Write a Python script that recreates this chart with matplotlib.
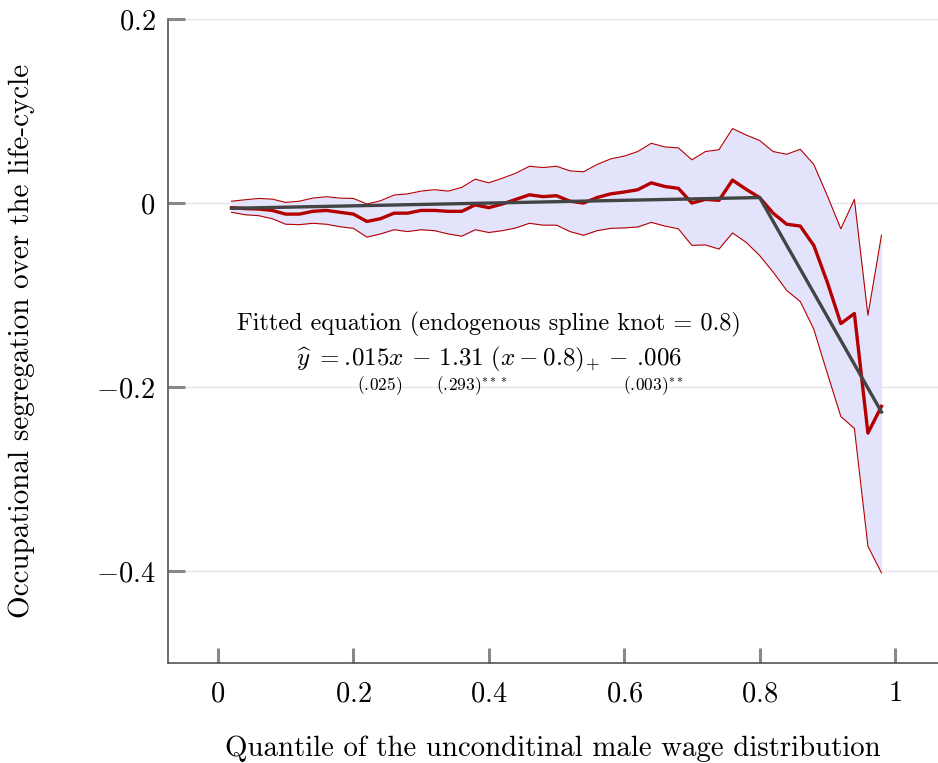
import numpy as np
import matplotlib
matplotlib.use("Agg")
import matplotlib.pyplot as plt
from matplotlib.ticker import FuncFormatter

plt.rcParams["font.family"] = "serif"
plt.rcParams["font.serif"] = ["cmr10"]
plt.rcParams["mathtext.fontset"] = "cm"
plt.rcParams["axes.formatter.use_mathtext"] = True

# quantiles of the male wage distribution
quantile = np.round(np.arange(0.02, 0.99, 0.02), 2)

# point estimates and 95% band
estimate = [
    -0.005, -0.006, -0.0065, -0.008, -0.012, -0.012, -0.009, -0.008, -0.010, -0.012,
    -0.020, -0.017, -0.011, -0.011, -0.008, -0.008, -0.009, -0.009, -0.002, -0.005,
    -0.001, 0.004, 0.009, 0.007, 0.008, 0.002, 0.000, 0.006, 0.010, 0.012,
    0.0145, 0.022, 0.018, 0.016, 0.000, 0.004, 0.003, 0.025, 0.015, 0.006,
    -0.011, -0.023, -0.025, -0.046, -0.086, -0.131, -0.120, -0.250, -0.221,
]
upper = [
    0.002, 0.0036, 0.005, 0.0043, 0.0007, 0.002, 0.0054, 0.0069, 0.0054, 0.005,
    -0.001, 0.0025, 0.0087, 0.010, 0.013, 0.0145, 0.013, 0.017, 0.026, 0.022,
    0.027, 0.0325, 0.040, 0.0386, 0.040, 0.035, 0.034, 0.042, 0.048, 0.051,
    0.056, 0.065, 0.061, 0.060, 0.047, 0.056, 0.058, 0.081, 0.074, 0.068,
    0.056, 0.053, 0.0585, 0.042, 0.008, -0.028, 0.004, -0.122, -0.035,
]
lower = [
    -0.010, -0.0127, -0.0137, -0.017, -0.023, -0.0235, -0.022, -0.023, -0.0257, -0.0275,
    -0.037, -0.0336, -0.029, -0.031, -0.029, -0.030, -0.0336, -0.036, -0.029, -0.032,
    -0.030, -0.027, -0.022, -0.024, -0.024, -0.031, -0.035, -0.030, -0.0275, -0.027,
    -0.026, -0.021, -0.025, -0.028, -0.046, -0.0455, -0.050, -0.0325, -0.0426, -0.057,
    -0.075, -0.095, -0.107, -0.137, -0.185, -0.232, -0.245, -0.373, -0.402,
]

# fitted linear spline: y = b1*x + b2*(x - knot)_+ + c
b1, b2, const, knot = 0.015, -1.31, -0.006, 0.8
fitted = b1 * quantile + b2 * np.clip(quantile - knot, 0, None) + const

red = "#b30000"
fig = plt.figure(figsize=(9.38, 7.63), dpi=100)
ax = fig.add_axes([0.179, 0.131, 0.821, 0.844])

ax.fill_between(quantile, lower, upper, color="#e3e3fc", lw=0, zorder=1)
ax.plot(quantile, upper, color=red, lw=0.8, zorder=2)
ax.plot(quantile, lower, color=red, lw=0.8, zorder=2)
ax.plot(quantile, estimate, color=red, lw=2.4, zorder=3)
ax.plot(quantile, fitted, color="#444444", lw=2.4, zorder=4)

ax.set_xlim(-0.074, 1.0635)
ax.set_ylim(-0.5, 0.2)
ax.set_xticks([0, 0.2, 0.4, 0.6, 0.8, 1])
ax.set_yticks([-0.4, -0.2, 0, 0.2])
fmt = FuncFormatter(lambda v, pos: f"${v:g}$")
ax.xaxis.set_major_formatter(fmt)
ax.yaxis.set_major_formatter(fmt)
ax.grid(axis="y", color="#e4e4e4", lw=1, zorder=0)
ax.set_axisbelow(True)

for side in ["top", "right"]:
    ax.spines[side].set_visible(False)
for side in ["left", "bottom"]:
    ax.spines[side].set_color("#555555")
    ax.spines[side].set_linewidth(1.2)
ax.tick_params(axis="both", direction="in", color="#888888", width=2.2, labelsize=20.5)
ax.tick_params(axis="y", length=12, pad=9)
ax.tick_params(axis="x", length=11, pad=13)

ax.set_xlabel("Quantile of the unconditinal male wage distribution", fontsize=20.8, labelpad=20)
ax.set_ylabel("Occupational segregation over the life-cycle", fontsize=21, labelpad=44)

# leading dots get a kern so ".015" reads as one number
ax.text(0.40, -0.132, "Fitted equation (endogenous spline knot = 0.8)",
        fontsize=17.5, ha="center", va="center")
ax.text(0.40, -0.17, r"$\widehat{y}\,\, = .\!015x\, -\, 1.31\ (x - 0.8)_{+}\, -\, .\!006$",
        fontsize=18, ha="center", va="center")
ax.text(0.239, -0.199, r"$(.\!025)$", fontsize=12.5, ha="center", va="center")
ax.text(0.374, -0.199, r"$(.\!293)^{***}$", fontsize=12.5, ha="center", va="center")
ax.text(0.643, -0.199, r"$(.\!003)^{**}$", fontsize=12.5, ha="center", va="center")

fig.savefig("out.png", dpi=100)
